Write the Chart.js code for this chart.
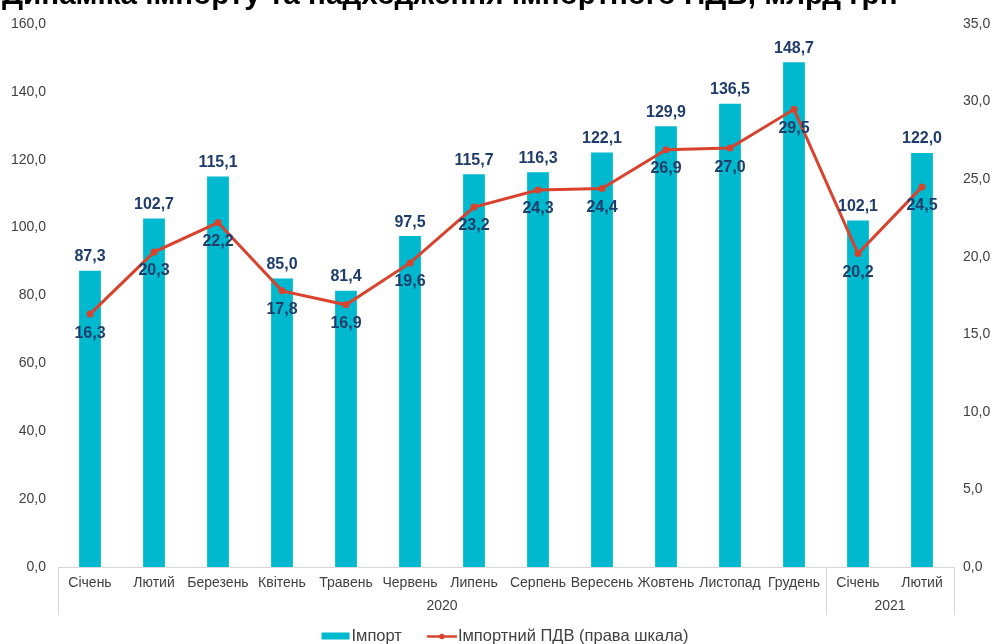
<!DOCTYPE html>
<html>
<head>
<meta charset="utf-8">
<script src="https://cdn.jsdelivr.net/npm/chart.js@4/dist/chart.umd.min.js"></script>
<style>
  html, body { margin: 0; padding: 0; background: #fff; }
  #wrap { position: relative; width: 996px; height: 644px; }
</style>
</head>
<body>
<div id="wrap"><canvas id="importChart" width="996" height="644"></canvas></div>
<script>
'use strict';

var titleText = 'Динаміка імпорту та надходження імпортного ПДВ, млрд грн';
var months = ['Січень', 'Лютий', 'Березень', 'Квітень', 'Травень', 'Червень', 'Липень',
  'Серпень', 'Вересень', 'Жовтень', 'Листопад', 'Грудень', 'Січень', 'Лютий'];
var years = ['2020', '2021'];
var yearStart = [0, 12];      // first month index of each year
var importValues = [87.3, 102.7, 115.1, 85.0, 81.4, 97.5, 115.7, 116.3, 122.1, 129.9, 136.5, 148.7, 102.1, 122.0];
var vatValues = [16.3, 20.3, 22.2, 17.8, 16.9, 19.6, 23.2, 24.3, 24.4, 26.9, 27.0, 29.5, 20.2, 24.5];
var seriesNames = ['Імпорт', 'Імпортний ПДВ (права шкала)'];

var barColor = '#00B9CE';
var lineColor = '#D9432E';
var labelColor = '#1F3D6B';
var tickColor = '#404040';
var axisLineColor = '#D9D9D9';
var fontFam = '"Liberation Sans", Arial, sans-serif';

function fmt(v) {
  return v.toFixed(1).replace('.', ',');
}

var valueLabels = {
  id: 'valueLabels',
  afterDatasetsDraw: function(chart) {
    var ctx = chart.ctx;
    ctx.save();
    ctx.font = 'bold 16px ' + fontFam;
    ctx.fillStyle = labelColor;
    ctx.textAlign = 'center';
    var bars = chart.getDatasetMeta(1).data;
    ctx.textBaseline = 'bottom';
    for (var i = 0; i < bars.length; i++) {
      ctx.fillText(fmt(importValues[i]), bars[i].x, bars[i].y - 6);
    }
    var pts = chart.getDatasetMeta(0).data;
    ctx.textBaseline = 'top';
    for (var j = 0; j < pts.length; j++) {
      ctx.fillText(fmt(vatValues[j]), pts[j].x, pts[j].y + 11);
    }
    ctx.restore();
  }
};

// second row of the category axis, the legend and the cut-off title
var extras = {
  id: 'extras',
  afterDraw: function(chart) {
    var ctx = chart.ctx;
    var xs = chart.scales.x;
    var top = chart.chartArea.bottom;
    var bottom = top + 48;
    var step = xs.getPixelForValue(1) - xs.getPixelForValue(0);
    ctx.save();
    ctx.strokeStyle = axisLineColor;
    ctx.lineWidth = 1;
    var bounds = [];
    for (var i = 0; i < yearStart.length; i++) {
      bounds.push(xs.getPixelForValue(yearStart[i]) - step / 2);
    }
    bounds.push(xs.getPixelForValue(months.length - 1) + step / 2);
    for (var b = 0; b < bounds.length; b++) {
      var bx = Math.round(bounds[b]) + 0.5;
      ctx.beginPath(); ctx.moveTo(bx, top); ctx.lineTo(bx, bottom); ctx.stroke();
    }
    ctx.font = '14px ' + fontFam;
    ctx.fillStyle = tickColor;
    ctx.textAlign = 'center';
    ctx.textBaseline = 'middle';
    for (var k = 0; k < years.length; k++) {
      ctx.fillText(years[k], (bounds[k] + bounds[k + 1]) / 2, top + 39);
    }

    // legend
    ctx.font = '16.5px ' + fontFam;
    ctx.textAlign = 'left';
    var w1 = ctx.measureText(seriesNames[0]).width;
    var w2 = ctx.measureText(seriesNames[1]).width;
    var total = 28 + 2 + w1 + 25 + 30 + 1 + w2;
    var lx = 505 - total / 2;
    var ly = 636;
    ctx.fillStyle = barColor;
    ctx.fillRect(lx, ly - 3.5, 28, 7);
    ctx.fillStyle = tickColor;
    ctx.fillText(seriesNames[0], lx + 30, ly);
    lx += 30 + w1 + 25;
    ctx.strokeStyle = lineColor;
    ctx.lineWidth = 2.5;
    ctx.beginPath(); ctx.moveTo(lx, ly + 0.5); ctx.lineTo(lx + 30, ly + 0.5); ctx.stroke();
    ctx.fillStyle = lineColor;
    ctx.beginPath(); ctx.arc(lx + 15, ly + 0.5, 2.8, 0, Math.PI * 2); ctx.fill();
    ctx.fillStyle = tickColor;
    ctx.fillText(seriesNames[1], lx + 31, ly);

    // title, cut at the top edge as in the source
    ctx.font = 'bold 29.6px ' + fontFam;
    ctx.fillStyle = '#000';
    ctx.textBaseline = 'alphabetic';
    ctx.fillText(titleText, 2, 4);
    ctx.restore();
  }
};

var chart = new Chart(document.getElementById('importChart').getContext('2d'), {
  data: {
    labels: months,
    datasets: [
      {
        type: 'line',
        label: seriesNames[1],
        data: vatValues,
        yAxisID: 'y2',
        borderColor: lineColor,
        backgroundColor: lineColor,
        borderWidth: 3,
        pointRadius: 3.5,
        pointHoverRadius: 3.5,
        pointBackgroundColor: lineColor,
        pointBorderWidth: 0,
        tension: 0,
        order: 0
      },
      {
        type: 'bar',
        label: seriesNames[0],
        data: importValues,
        yAxisID: 'y',
        backgroundColor: barColor,
        barPercentage: 0.34,
        categoryPercentage: 1,
        order: 1
      }
    ]
  },
  options: {
    responsive: false,
    animation: false,
    layout: { padding: { top: 24, left: 0, right: 0, bottom: 29 } },
    plugins: {
      legend: { display: false },
      tooltip: { enabled: false }
    },
    scales: {
      x: {
        grid: { display: false, drawTicks: false },
        border: { display: true, color: axisLineColor },
        ticks: {
          color: tickColor,
          padding: 8,
          maxRotation: 0,
          autoSkip: false,
          font: { size: 14, family: fontFam }
        },
        afterFit: function(s) { s.height = 48; }
      },
      y: {
        position: 'left',
        min: 0,
        max: 160,
        grid: { display: false, drawTicks: false },
        border: { display: false },
        ticks: {
          stepSize: 20,
          color: tickColor,
          padding: 12,
          font: { size: 14, family: fontFam },
          callback: function(v) { return fmt(v); }
        },
        afterFit: function(s) { s.width = 58; }
      },
      y2: {
        position: 'right',
        min: 0,
        max: 35,
        grid: { display: false, drawTicks: false },
        border: { display: false },
        ticks: {
          stepSize: 5,
          color: tickColor,
          padding: 9,
          font: { size: 14, family: fontFam },
          callback: function(v) { return fmt(v); }
        },
        afterFit: function(s) { s.width = 42; }
      }
    }
  },
  plugins: [valueLabels, extras]
});
</script>
</body>
</html>
